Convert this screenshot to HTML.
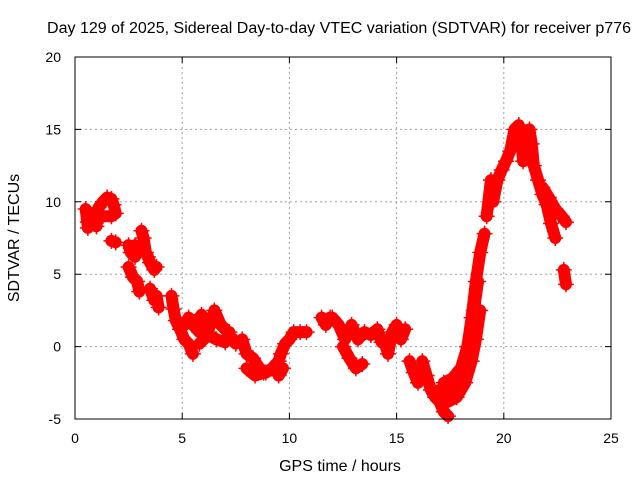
<!DOCTYPE html>
<html><head><meta charset="utf-8"><style>
body{margin:0;background:#fff;}
svg{display:block;font-family:"Liberation Sans",sans-serif;}
</style></head><body>
<svg id="chart" width="640" height="480" viewBox="0 0 640 480" xmlns="http://www.w3.org/2000/svg">
<rect width="640" height="480" fill="#fff"/>
<text x="339" y="33" font-size="15.5" text-anchor="middle" textLength="584" lengthAdjust="spacingAndGlyphs">Day 129 of 2025, Sidereal Day-to-day VTEC variation (SDTVAR) for receiver p776</text>
<text x="340" y="471" font-size="16" text-anchor="middle">GPS time / hours</text>
<text transform="translate(19,238) rotate(-90)" font-size="16" text-anchor="middle">SDTVAR / TECUs</text>
<g id="grid"></g><g id="marks"></g><g id="axes"></g>
</svg>
<script>
const xTicks=[0,5,10,15,20,25];
const yTicks=[-5,0,5,10,15,20];
const segHours=[
[0.5,0.6,0.7,0.9,1.0,1.1,1.3,1.5,1.7,1.8,1.9,1.7,1.3,1.0,0.6],
[1.7,1.9],
[2.5,2.6,2.8,3.0,2.8,2.6],
[2.5,2.7,2.9,3.0],
[3.1,3.2,3.3,3.4,3.5,3.7,3.8],
[3.5,3.7,3.8,3.9],
[4.5,4.6,4.7,4.9,5.1,5.3,5.5],
[5.1,5.3,5.5,5.8],
[5.6,5.9,6.2,6.5,6.8,7.0],
[5.8,6.2,6.6,7.0,7.2],
[7.2,7.5,7.8,8.0,8.3,8.6,8.9,9.2,9.5],
[9.4,9.6,9.8,10.0,10.2,10.5,10.8],
[8.0,8.4,8.8],
[9.5,9.7],
[11.5,11.7,11.9],
[12.0,12.3,12.6,12.9,13.2,13.5,13.8,14.1,14.3],
[12.5,12.8,13.1,13.4],
[14.4,14.6,14.8,15.0,15.2,15.4],
[15.6,15.8,16.0],
[16.2,16.4,16.6,16.8,17.0,17.2,17.4],
[17.0,17.3,17.6,18.0,18.3,18.5,18.7,18.9,19.1],
[17.4,17.8,18.2,18.5,18.7,18.9],
[17.2,17.6,18.0,18.3,18.6,18.8],
[19.2,19.4],
[19.5,19.7,19.9,20.1,20.3,20.5,20.7,20.8,20.9],
[21.2,21.3,21.4,21.6,21.8,22.0,22.2,22.4],
[21.8,22.1,22.4,22.7,22.9],
[22.8,22.9]
];
const segValues=[
[9.5,8.2,8.8,9.2,8.3,9.6,10.0,10.3,10.2,9.8,9.2,9.0,9.0,8.8,8.6],
[7.3,7.2],
[7.0,6.5,6.2,6.8,7.0,6.8],
[5.5,4.8,4.5,3.8],
[8.0,7.5,6.5,6.2,5.8,5.3,5.5],
[4.0,3.2,3.5,2.7],
[3.5,2.6,1.8,1.2,0.5,0.2,-0.5],
[1.5,2.0,1.5,1.0],
[1.5,2.2,1.0,2.5,1.5,1.2],
[0.2,0.8,0.5,0.3,1.0],
[0.8,0.2,0.5,-0.5,-0.8,-1.5,-1.8,-1.5,-1.0],
[-1.5,-0.5,0.2,0.5,1.0,1.0,1.0],
[-1.5,-2.0,-1.8],
[-2.0,-1.5],
[2.0,1.5,2.0],
[2.0,1.5,0.5,1.5,0.5,1.0,0.8,1.2,0.3],
[0.0,-0.8,-1.5,-1.2],
[0.5,-0.5,1.0,1.5,0.5,1.2],
[-1.0,-1.8,-2.5],
[-1.0,-2.0,-3.0,-3.5,-3.8,-4.5,-4.8],
[-3.0,-3.3,-2.8,-1.8,0.0,2.0,4.5,6.5,7.8],
[-3.8,-3.5,-2.5,-1.0,0.5,2.5],
[-2.5,-2.2,-1.5,0.0,2.5,4.5],
[9.0,11.5],
[10.0,11.5,12.2,12.8,13.5,15.0,15.3,14.5,12.8],
[15.0,14.0,12.5,11.5,10.5,9.8,8.5,7.5],
[11.0,10.3,9.5,9.0,8.6],
[5.3,4.3]
];
const X0=75,X1=611,Y0=419,Y1=57;
function xs(h){return X0+(h-0)/(25-0)*(X1-X0);}
function ys(v){return Y0-(v+5)/(25)*(Y0-Y1);}
const NS="http://www.w3.org/2000/svg";
const grid=document.getElementById('grid'),marks=document.getElementById('marks'),axes=document.getElementById('axes');
function mk(tag,attrs,parent){const e=document.createElementNS(NS,tag);for(const k in attrs)e.setAttribute(k,attrs[k]);parent.appendChild(e);return e;}
xTicks.forEach(t=>{
 const x=xs(t);
 if(t>0&&t<25){const g=mk('line',{x1:x,y1:Y1,x2:x,y2:Y0,stroke:'#a0a0a0','stroke-dasharray':'2,3'},grid);
 
 }
 const tk=mk('path',{d:`M${x},${Y0}v-6M${x},${Y1}v6`,stroke:'#000'},axes);
 
 
 const l=mk('text',{x:x,y:Y0+24,'font-size':14,'text-anchor':'middle'},axes);l.textContent=t;
 
 
});
yTicks.forEach(t=>{
 const y=ys(t);
 if(t>-5&&t<20){const g=mk('line',{x1:X0,y1:y,x2:X1,y2:y,stroke:'#a0a0a0','stroke-dasharray':'2,3'},grid);
 
 }
 const tk=mk('path',{d:`M${X0},${y}h6M${X1},${y}h-6`,stroke:'#000'},axes);
 
 
 const l=mk('text',{x:X0-14,y:y+5,'font-size':14,'text-anchor':'end'},axes);l.textContent=t;
 
 
});
const frame=mk('rect',{x:X0,y:Y1,width:X1-X0,height:Y0-Y1,fill:'none',stroke:'#000'},axes);


segHours.forEach((hs,i)=>{
 const vs=segValues[i];
 const pts=hs.map((h,j)=>xs(h).toFixed(1)+','+ys(vs[j]).toFixed(1)).join(' ');
 const pl=mk('polyline',{points:pts,fill:'none',stroke:'#f00','stroke-width':12,'stroke-linejoin':'round','stroke-linecap':'round'},marks);
 
 
 hs.forEach((h,j)=>{
  const x=xs(h),y=ys(vs[j]);
  const p=mk('path',{d:`M${x-8},${y}h16M${x},${y-8}v16`,stroke:'#f00','stroke-width':1.5},marks);
  
  
 });
});
</script>
</body></html>
